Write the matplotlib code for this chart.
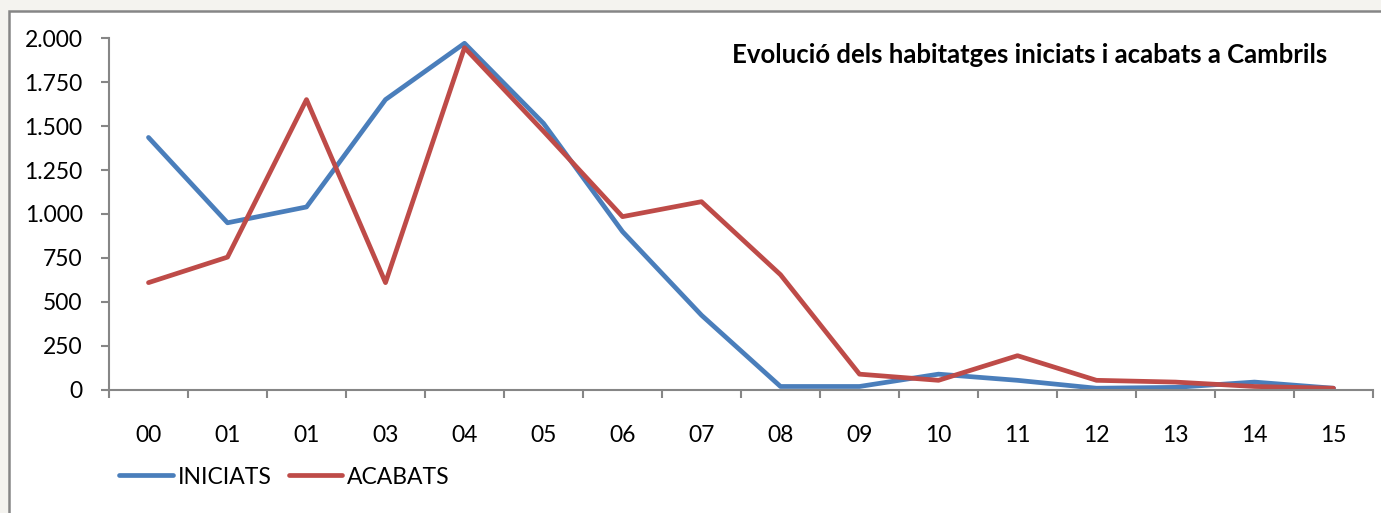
import matplotlib
matplotlib.use("Agg")
import matplotlib.pyplot as plt
from matplotlib.patches import Rectangle
from matplotlib.ticker import FuncFormatter, FixedLocator, NullFormatter

categories = ["00", "01", "01", "03", "04", "05", "06", "07", "08", "09", "10", "11", "12", "13", "14", "15"]
iniciats = [1435, 950, 1040, 1650, 1970, 1515, 900, 425, 20, 20, 90, 55, 10, 15, 45, 10]
acabats = [610, 755, 1650, 610, 1945, 1470, 985, 1070, 655, 90, 55, 195, 55, 45, 20, 10]
series_names = ["INICIATS", "ACABATS"]
title = "Evolució dels habitatges iniciats i acabats a Cambrils"
y_ticks = [0, 250, 500, 750, 1000, 1250, 1500, 1750, 2000]

W, H = 1381, 513
DPI = 100
plt.rcParams['font.family'] = ['Lato', 'DejaVu Sans']

fig = plt.figure(figsize=(W / DPI, H / DPI), dpi=DPI)
fig.patch.set_facecolor("#f4f3ef")

# chart area
rect = Rectangle((8.5 / W, -0.05), 1.1, (H - 10.5) / H + 0.05,
                 transform=fig.transFigure, facecolor="white",
                 edgecolor="#868686", linewidth=1.8, zorder=-10)
fig.add_artist(rect)

left, right = 109 / W, 1373 / W
bottom, top = (H - 390) / H, (H - 38) / H
ax = fig.add_axes([left, bottom, right - left, top - bottom])
ax.set_facecolor("none")

x = list(range(len(categories)))
ax.plot(x, iniciats, color="#4a7ebb", lw=3.4, label=series_names[0], solid_joinstyle="round", solid_capstyle="round")
ax.plot(x, acabats, color="#be4b48", lw=3.4, label=series_names[1], solid_joinstyle="round", solid_capstyle="round")

ax.set_xlim(-0.5, len(categories) - 0.5)
ax.set_ylim(0, 2000)

gray = "#868686"
for s in ["top", "right"]:
    ax.spines[s].set_visible(False)
for s in ["left", "bottom"]:
    ax.spines[s].set_color(gray)
    ax.spines[s].set_linewidth(1.5)

ax.set_yticks(y_ticks)
ax.yaxis.set_major_formatter(FuncFormatter(lambda v, p: f"{int(v):,}".replace(",", ".")))
ax.tick_params(axis="y", direction="out", length=6, width=1.5, color=gray, labelsize=16.5, pad=13)

ax.set_xticks(x)
ax.set_xticklabels(categories)
ax.xaxis.set_minor_locator(FixedLocator([i - 0.5 for i in range(len(categories) + 1)]))
ax.xaxis.set_minor_formatter(NullFormatter())
ax.tick_params(axis="x", which="major", length=0, labelsize=16.5, pad=25)
ax.tick_params(axis="x", which="minor", direction="out", length=6, width=1.5, color=gray)

fig.text(1327 / W, (H - 55) / H, title, ha="right", va="center", fontsize=18.5, fontweight="bold")

leg = fig.legend(loc="center left", bbox_to_anchor=(119 / W, (H - 477) / H), ncol=2,
                 frameon=False, fontsize=16.5, handlelength=2.35, handletextpad=0.2,
                 columnspacing=0.75, borderpad=0, borderaxespad=0)

fig.savefig("out.png", dpi=DPI, facecolor=fig.get_facecolor())
